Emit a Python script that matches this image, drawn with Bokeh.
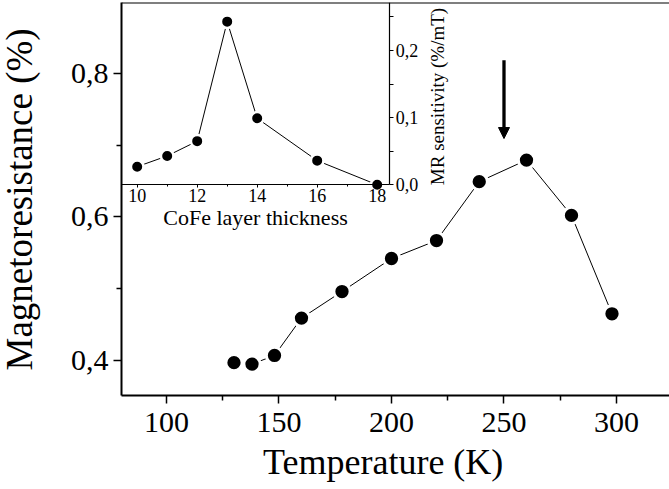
import math
from bokeh.plotting import figure
from bokeh.layouts import row
from bokeh.models import LinearAxis, Range1d, FixedTicker, Arrow, NormalHead, Label, Title
from bokeh.embed import file_html
from bokeh.resources import INLINE

# ---- main data: Temperature (K) vs Magnetoresistance (%)
temps = [130, 138, 148, 160, 178, 200, 220, 239, 260, 280, 298]
mr = [0.397, 0.395, 0.407, 0.459, 0.496, 0.542, 0.567, 0.649, 0.679, 0.602, 0.465]

# ---- inset data: CoFe layer thickness vs MR sensitivity (%/mT)
thick = [10, 11, 12, 13, 14, 16, 18]
sens = [0.027, 0.043, 0.065, 0.243, 0.099, 0.036, 0.0]

# ---- ticks / labels
x_ticks = [100, 150, 200, 250, 300]
x_minor = [125, 175, 225, 275]
y_ticks = [0.4, 0.6, 0.8]
y_tick_labels = ["0,4", "0,6", "0,8"]
y_minor = [0.5, 0.7]
ix_ticks = [10, 12, 14, 16, 18]
ix_minor = [11, 13, 15, 17]
iy_ticks = [0.0, 0.1, 0.2]
iy_tick_labels = ["0,0", "0,1", "0,2"]
iy_minor = [0.05, 0.15, 0.25]

x_title = "Temperature (K)"
y_title = "Magnetoresistance (%)"
ix_title = "CoFe layer thickness"
iy_title = "MR sensitivity (%/mT)"

# arrow marking 250 K
arrow_T = 250
arrow_from = 0.818
arrow_to = 0.709

FONT = "Liberation Serif"

X0, X1 = 80.0, 323.56
Y0, Y1 = 0.35127, 0.8984
IX0, IX1 = 9.477, 27.744
IY0, IY1 = -0.3138, 0.2715
IX_RIGHT = 18.42

LW = 46   # width of the strip that carries the y title
H = 489

# ---- strip with the vertical y title
lf = figure(width=LW, height=H, x_range=Range1d(0, LW), y_range=Range1d(0, H),
            output_backend="svg", toolbar_location=None,
            x_axis_location=None, y_axis_location=None,
            min_border_left=0, min_border_right=0, min_border_top=0, min_border_bottom=0)
lf.outline_line_color = None
lf.xgrid.visible = False
lf.ygrid.visible = False
lf.add_layout(Label(x=18.5, y=244, text=y_title, angle=math.pi / 2, text_font=FONT,
                    text_font_size="37px", text_align="center", text_baseline="middle",
                    text_color="black"))

# ---- main plot
p = figure(width=669 - LW, height=H, x_range=Range1d(X0, X1), y_range=Range1d(Y0, Y1),
           output_backend="svg", toolbar_location=None,
           min_border_left=121 - LW, min_border_right=0, min_border_top=2, min_border_bottom=94)
p.outline_line_color = None
p.xgrid.visible = False
p.ygrid.visible = False
p.background_fill_color = "white"

xa = p.xaxis[0]
xa.ticker = FixedTicker(ticks=x_ticks, minor_ticks=x_minor)
xa.axis_line_width = 2
xa.major_tick_in = 0
xa.major_tick_out = 8
xa.minor_tick_in = 0
xa.minor_tick_out = 5
xa.major_tick_line_width = 1.5
xa.minor_tick_line_width = 1.5
xa.major_label_standoff = 9
xa.major_label_text_font = FONT
xa.major_label_text_font_size = "30px"
xa.major_label_text_color = "black"

# top frame line
tline = LinearAxis(fixed_location=Y1, ticker=FixedTicker(ticks=[]),
                   major_label_text_font_size="0px", axis_line_width=2)
p.add_layout(tline, "above")

ya = p.yaxis[0]
ya.ticker = FixedTicker(ticks=y_ticks, minor_ticks=y_minor)
ya.major_label_overrides = {t: l for t, l in zip(y_ticks, y_tick_labels)}
ya.axis_line_width = 2
ya.major_tick_in = 0
ya.major_tick_out = 8
ya.minor_tick_in = 0
ya.minor_tick_out = 5
ya.major_tick_line_width = 1.5
ya.minor_tick_line_width = 1.5
ya.major_label_standoff = 5
ya.major_label_text_font = FONT
ya.major_label_text_font_size = "30px"
ya.major_label_text_color = "black"

# x title below the axis
p.add_layout(Title(text=x_title, align="left", offset=141.5, standoff=10,
                   text_font=FONT, text_font_size="36px", text_font_style="normal",
                   text_color="black"), "below")

# main series
p.line(temps, mr, line_color="black", line_width=1)
p.scatter(temps, mr, size=16.3, fill_color="black", line_color="white", line_width=3)

p.add_layout(Arrow(x_start=arrow_T, y_start=arrow_from, x_end=arrow_T, y_end=arrow_to,
                   line_width=3.3, line_color="black",
                   end=NormalHead(size=11, fill_color="black", line_color="black", line_width=1)))

# ---- inset
p.extra_x_ranges = {"ix": Range1d(IX0, IX1)}
p.extra_y_ranges = {"iy": Range1d(IY0, IY1)}

p.line(thick, sens, x_range_name="ix", y_range_name="iy", line_color="black", line_width=1)
p.scatter(thick, sens, x_range_name="ix", y_range_name="iy", size=12.5,
          fill_color="black", line_color="white", line_width=2.5)

ixa = LinearAxis(x_range_name="ix", y_range_name="iy", fixed_location=0.0,
                 bounds=(IX0, IX_RIGHT),
                 ticker=FixedTicker(ticks=ix_ticks, minor_ticks=ix_minor))
ixa.axis_line_width = 1.2
ixa.major_tick_in = 0
ixa.major_tick_out = 3
ixa.minor_tick_in = 0
ixa.minor_tick_out = 2
ixa.major_label_standoff = 1
ixa.major_label_text_font = FONT
ixa.major_label_text_font_size = "18px"
ixa.major_label_text_color = "black"
ixa.axis_label = ix_title
ixa.axis_label_text_font = FONT
ixa.axis_label_text_font_size = "22px"
ixa.axis_label_text_font_style = "normal"
ixa.axis_label_text_color = "black"
ixa.axis_label_standoff = 0
p.add_layout(ixa, "below")

iya = LinearAxis(x_range_name="ix", y_range_name="iy", fixed_location=IX_RIGHT,
                 bounds=(0.0, IY1),
                 ticker=FixedTicker(ticks=iy_ticks, minor_ticks=iy_minor))
iya.major_label_overrides = {t: l for t, l in zip(iy_ticks, iy_tick_labels)}
iya.axis_line_width = 1.2
iya.major_tick_in = 0
iya.major_tick_out = 4
iya.minor_tick_in = 0
iya.minor_tick_out = 4
iya.major_label_standoff = 2
iya.major_label_text_font = FONT
iya.major_label_text_font_size = "18px"
iya.major_label_text_color = "black"
p.add_layout(iya, "right")

p.add_layout(Label(x=20.01, y=0.1315, x_range_name="ix", y_range_name="iy",
                   text=iy_title, angle=math.pi / 2, text_font=FONT,
                   text_font_size="19px", text_align="center", text_baseline="middle",
                   text_color="black"))

layout = row(lf, p)
open("out.html", "w").write(file_html(layout, INLINE))
